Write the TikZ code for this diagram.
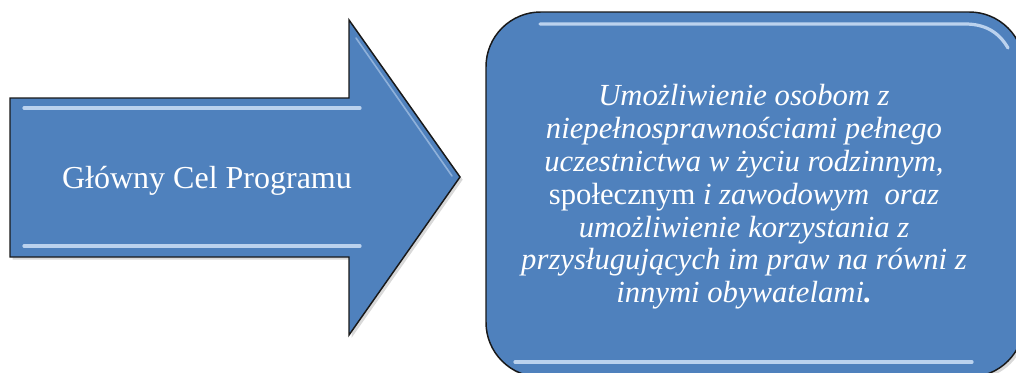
\documentclass[tikz,border=0pt]{standalone}
\usepackage{fontspec}
\setmainfont{Liberation Serif}
\usetikzlibrary{shadows}
\definecolor{goalblue}{HTML}{4F81BD}
\definecolor{glintblue}{HTML}{CFE1F7}

\begin{document}
\begin{tikzpicture}[x=0.75pt, y=-0.75pt,
  goalshape/.style={fill=goalblue, draw=black!90, line width=1.1pt,
    drop shadow={opacity=0.3, shadow xshift=2pt, shadow yshift=-2pt}},
  glint/.style={draw=glintblue, line width=2.4pt, line cap=round, opacity=0.85},
  whitetext/.style={text=white, align=center, inner sep=0pt}]
\clip (0,0) rectangle (1016,372);
\draw[goalshape] (10,98) -- (349,98) -- (349,20) -- (460,177) -- (349,335)
  -- (349,257) -- (10,257) -- cycle;
\draw[glint] (24,108) -- (360,108);
\draw[glint] (24,246) -- (360,246);
\draw[glint, line width=1.2pt, opacity=0.5] (356,38) -- (452,176);
\node[whitetext, anchor=base, font=\fontsize{24pt}{28pt}\selectfont] (cel)
  at (207,188) {Główny Cel Programu};
\node[goalshape, rounded corners=41pt, minimum width=403.5pt,
  minimum height=273.75pt] (box) at (755,194.5) {};
\draw[glint] (540,24) -- (965,24) to[out=0, in=120] (1008,48);
\draw[glint] (515,362) -- (972,362);
\node[whitetext, font=\fontsize{23pt}{24.6pt}\selectfont\itshape] (goal)
  at (744,197) {Umożliwienie osobom z\\
  niepełnosprawnościami pełnego\\
  uczestnictwa w życiu rodzinnym,\\
  {\upshape społecznym} i zawodowym\ \ oraz\\
  umożliwienie korzystania z\\
  przysługujących im praw na równi z\\
  innymi obywatelami\textbf{.}};
\end{tikzpicture}
\end{document}
